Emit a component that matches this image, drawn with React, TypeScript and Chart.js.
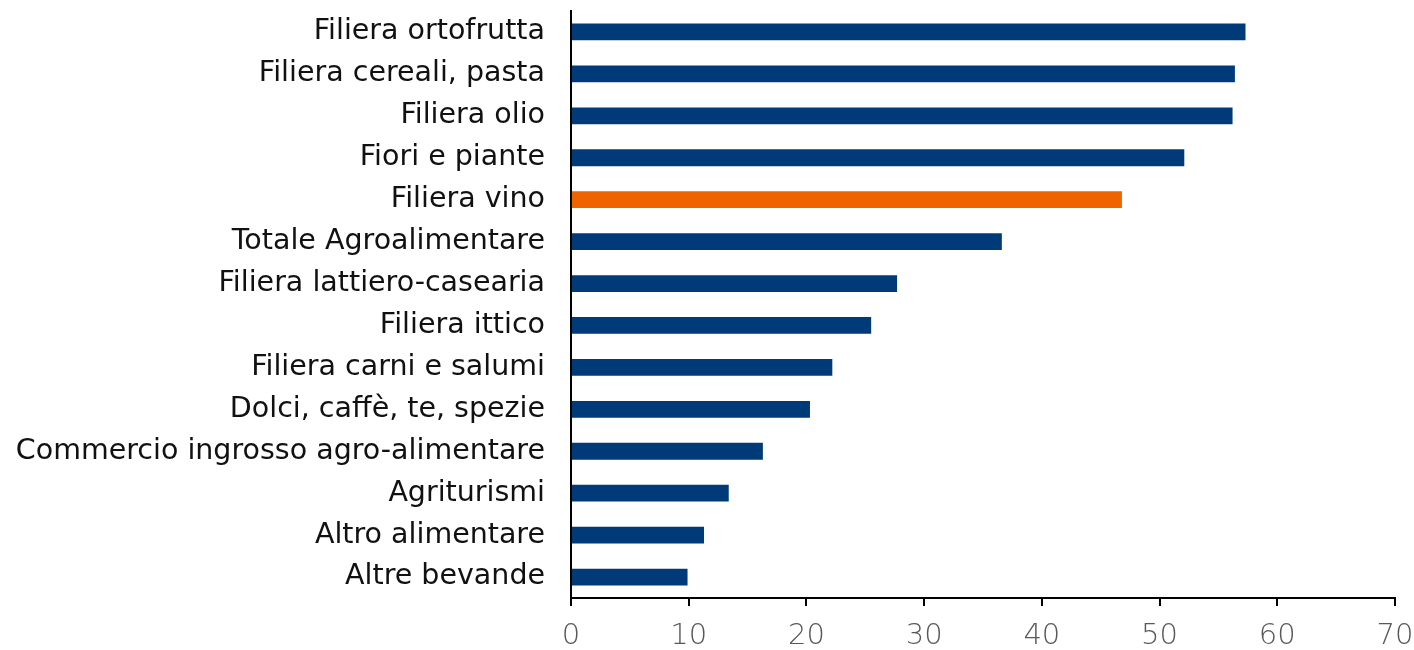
import React, { useEffect, useRef } from "react";
import { Chart, registerables } from "chart.js";

Chart.register(...registerables);

const categories: string[] = [
  "Filiera ortofrutta",
  "Filiera cereali, pasta",
  "Filiera olio",
  "Fiori e piante",
  "Filiera vino",
  "Totale Agroalimentare",
  "Filiera lattiero-casearia",
  "Filiera ittico",
  "Filiera carni e salumi",
  "Dolci, caffè, te, spezie",
  "Commercio ingrosso agro-alimentare",
  "Agriturismi",
  "Altro alimentare",
  "Altre bevande",
];

const values: number[] = [57.3, 56.4, 56.2, 52.1, 46.8, 36.6, 27.7, 25.5, 22.2, 20.3, 16.3, 13.4, 11.3, 9.9];

const highlighted: string[] = ["Filiera vino"];

const xTicks = { min: 0, max: 70, step: 10 };

const NAVY = "#003A78";
const ORANGE = "#F06400";
const FONT = "DejaVu Sans";

export default function App() {
  const ref = useRef<HTMLCanvasElement | null>(null);
  useEffect(() => {
    if (!ref.current) return;
    const chart = new Chart(ref.current, {
      type: "bar",
      data: {
        labels: categories,
        datasets: [
          {
            data: values,
            backgroundColor: categories.map((c) => (highlighted.includes(c) ? ORANGE : NAVY)),
            barPercentage: 0.8,
            categoryPercentage: 0.5,
          },
        ],
      },
      options: {
        indexAxis: "y",
        animation: false,
        responsive: false,
        maintainAspectRatio: false,
        layout: { padding: { top: 11, right: 19, left: 0, bottom: 0 } },
        plugins: { legend: { display: false }, tooltip: { enabled: false } },
        scales: {
          x: {
            min: xTicks.min,
            max: xTicks.max,
            ticks: { stepSize: xTicks.step, color: "#595959", font: { family: FONT, size: 29, weight: "200" }, padding: 13 },
            grid: { drawOnChartArea: false, drawTicks: true, tickLength: 8, color: "#000", lineWidth: 2 },
            border: { display: true, color: "#000", width: 2 },
            afterFit: (scale: any) => {
              scale.height = 52;
              scale.paddingLeft = 0;
              scale.paddingRight = 0;
            },
          },
          y: {
            ticks: { color: "#111", font: { family: FONT, size: 28.5 }, padding: 18, autoSkip: false },
            grid: { display: false },
            border: { display: true, color: "#000", width: 2 },
            afterFit: (scale: any) => {
              scale.width = 571;
              scale.paddingTop = 0;
              scale.paddingBottom = 0;
            },
          },
        },
      },
    } as any);
    return () => chart.destroy();
  }, []);
  return (
    <div style={{ position: "fixed", left: 0, top: 0, width: 1414, height: 650, background: "#fff" }}>
      <canvas ref={ref} width={1414} height={650} style={{ display: "block" }} />
    </div>
  );
}
